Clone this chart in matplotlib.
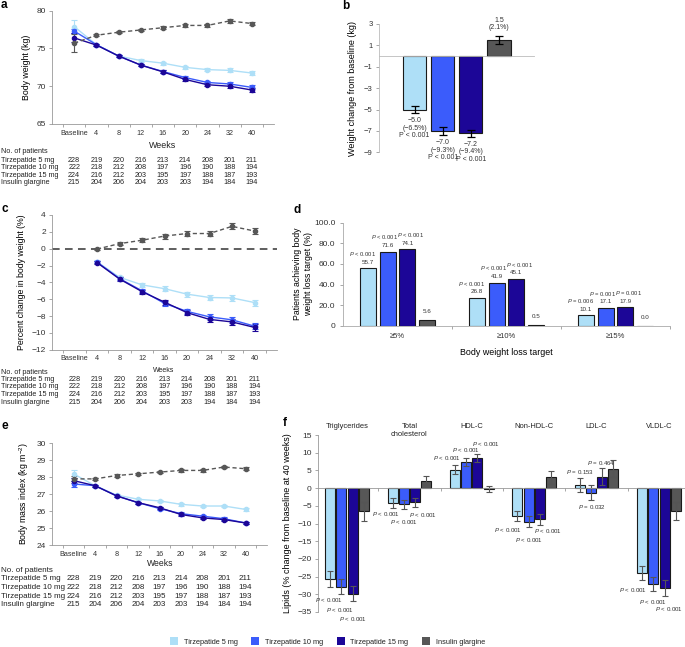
import numpy as np
import matplotlib.pyplot as plt
from matplotlib.patches import Patch
from matplotlib.transforms import blended_transform_factory

plt.rcParams['font.family'] = ['Liberation Sans', 'DejaVu Sans']
plt.rcParams['mathtext.fontset'] = 'custom'
plt.rcParams['mathtext.rm'] = 'Liberation Sans'
plt.rcParams['mathtext.it'] = 'Liberation Sans:italic'
plt.rcParams['axes.linewidth'] = 0.6
plt.rcParams['xtick.color'] = '#999999'
plt.rcParams['ytick.color'] = '#999999'
plt.rcParams['xtick.labelcolor'] = '#333333'
plt.rcParams['ytick.labelcolor'] = '#333333'
plt.rcParams['text.color'] = '#222222'

W, H = 685, 647

weeks = ['Baseline', '4', '8', '12', '16', '20', '24', '32', '40']
groups = ['Tirzepatide 5 mg', 'Tirzepatide 10 mg', 'Tirzepatide 15 mg', 'Insulin glargine']
colors = ['#aedff7', '#3b5cfb', '#1c0697', '#575757']

# a: body weight (kg)
wt_5 = [77.9, 75.5, 74.0, 73.4, 73.05, 72.5, 72.2, 72.1, 71.75]
wt_10 = [77.3, 75.5, 74.0, 72.8, 71.95, 71.15, 70.5, 70.3, 69.85]
wt_15 = [76.4, 75.45, 74.0, 72.8, 71.9, 70.9, 70.2, 70.0, 69.5]
wt_ig = [75.7, 76.75, 77.15, 77.45, 77.75, 78.05, 78.05, 78.65, 78.3]
wt_err_5 = [0.9, 0.12, 0.15, 0.18, 0.2, 0.2, 0.22, 0.25, 0.25]
wt_err_10 = [0.3, 0.12, 0.15, 0.18, 0.2, 0.22, 0.22, 0.25, 0.25]
wt_err_15 = [0.6, 0.12, 0.15, 0.18, 0.2, 0.22, 0.22, 0.25, 0.25]
wt_err_ig = [1.2, 0.12, 0.12, 0.15, 0.18, 0.2, 0.2, 0.22, 0.22]

# b: weight change at 40 weeks
chg_kg = [-5.0, -7.0, -7.2, 1.5]
chg_err = [0.3, 0.35, 0.33, 0.35]
chg_pct = [-6.5, -9.3, -9.4, 2.1]
chg_p = ['P < 0.001', 'P < 0.001', 'P < 0.001', '']

# c: percent change in body weight (weeks 4-40)
pc_5 = [-1.55, -3.4, -4.3, -4.75, -5.4, -5.8, -5.85, -6.4]
pc_10 = [-1.6, -3.55, -5.0, -6.5, -7.45, -8.1, -8.45, -9.2]
pc_15 = [-1.65, -3.6, -5.1, -6.35, -7.6, -8.4, -8.7, -9.35]
pc_ig = [-0.05, 0.6, 1.0, 1.5, 1.8, 1.8, 2.65, 2.1]
pc_err_5 = [0.15, 0.2, 0.25, 0.3, 0.3, 0.3, 0.35, 0.35]
pc_err_10 = [0.15, 0.2, 0.25, 0.3, 0.3, 0.35, 0.35, 0.4]
pc_err_15 = [0.15, 0.2, 0.25, 0.3, 0.3, 0.35, 0.35, 0.4]
pc_err_ig = [0.15, 0.2, 0.25, 0.3, 0.3, 0.35, 0.35, 0.4]

# d: patients achieving weight loss target (%)
targets = ['\u22655%', '\u226510%', '\u226515%']
ach_5 = [55.7, 26.8, 10.1]
ach_10 = [71.6, 41.9, 17.1]
ach_15 = [74.1, 45.1, 17.9]
ach_ig = [5.6, 0.5, 0.0]
ach_p_5 = ['< 0.001', '< 0.001', '= 0.006']
ach_p_10 = ['< 0.001', '< 0.001', '= 0.001']
ach_p_15 = ['< 0.001', '< 0.001', '= 0.001']

# e: BMI
bmi_5 = [28.2, 27.5, 26.95, 26.7, 26.6, 26.4, 26.3, 26.3, 26.1]
bmi_10 = [27.6, 27.5, 26.9, 26.5, 26.15, 25.85, 25.7, 25.55, 25.3]
bmi_15 = [27.8, 27.5, 26.9, 26.5, 26.2, 25.8, 25.6, 25.5, 25.3]
bmi_ig = [27.9, 27.9, 28.1, 28.2, 28.3, 28.4, 28.4, 28.6, 28.5]
bmi_err_5 = [0.25, 0.05, 0.06, 0.06, 0.07, 0.07, 0.08, 0.08, 0.08]
bmi_err_10 = [0.2, 0.05, 0.06, 0.06, 0.07, 0.07, 0.08, 0.08, 0.08]
bmi_err_15 = [0.15, 0.05, 0.06, 0.06, 0.07, 0.07, 0.08, 0.08, 0.08]
bmi_err_ig = [0.15, 0.05, 0.06, 0.06, 0.07, 0.07, 0.08, 0.08, 0.08]

# number of patients
n_5 = [228, 219, 220, 216, 213, 214, 208, 201, 211]
n_10 = [222, 218, 212, 208, 197, 196, 190, 188, 194]
n_15 = [224, 216, 212, 203, 195, 197, 188, 187, 193]
n_ig = [215, 204, 206, 204, 203, 203, 194, 184, 194]

# f: lipids, % change at 40 weeks
lipids = ['Triglycerides', 'Total\ncholesterol', 'HDL-C', 'Non-HDL-C', 'LDL-C', 'VLDL-C']
lip_5 = [-25.6, -4.3, 5.2, -8.0, 0.8, -24.0]
lip_10 = [-27.8, -4.6, 7.3, -9.5, -1.3, -27.1]
lip_15 = [-29.8, -4.0, 8.5, -8.8, 3.2, -28.2]
lip_ig = [-6.6, 2.1, -0.3, 3.0, 5.5, -6.4]
lip_err_5 = [2.2, 1.4, 1.2, 1.4, 2.0, 2.1]
lip_err_10 = [2.1, 1.2, 1.1, 1.5, 2.1, 2.0]
lip_err_15 = [2.1, 1.2, 1.2, 1.5, 2.4, 2.2]
lip_err_ig = [2.8, 1.3, 0.9, 1.8, 2.3, 2.6]
lip_p_5 = ['< 0.001', '< 0.001', '< 0.001', '< 0.001', '= 0.153', '< 0.001']
lip_p_10 = ['< 0.001', '< 0.001', '< 0.001', '< 0.001', '= 0.032', '< 0.001']
lip_p_15 = ['< 0.001', '< 0.001', '< 0.001', '< 0.001', '= 0.464', '< 0.001']


def box(x0, y0, x1, y1):
    return [x0 / W, 1 - y1 / H, (x1 - x0) / W, (y1 - y0) / H]


def fy(py):
    return 1 - py / H


def minus(s):
    return s.replace('-', '\u2212')


fig = plt.figure(figsize=(W / 100, H / 100), dpi=100)


def line_panel(ax, x, series, errs, ylim, yticks, ylabel):
    styles = ['-', '-', '-', (0, (3, 2))]
    for vals, err, c, ls in zip(series, errs, colors, styles):
        ax.errorbar(x, vals, yerr=err, color=c, ls=ls, lw=1.0, marker='o', ms=3,
                    capsize=2.2, elinewidth=0.8, capthick=0.8)
    ax.set_xlim(-1, 9)
    ax.set_ylim(*ylim)
    ax.set_yticks(yticks)
    ax.set_yticklabels([minus(str(t)) for t in yticks])
    ax.set_xticks(range(9))
    ax.set_xticklabels(weeks, fontsize=5.2)
    ax.set_xticks(np.arange(-0.5, 9, 1), minor=True)
    ax.tick_params(axis='x', which='major', length=0, pad=4)
    ax.tick_params(axis='x', which='minor', length=2.5, width=0.6)
    ax.tick_params(axis='y', length=2.5, width=0.6, labelsize=6, pad=2)
    for s in ['top', 'right']:
        ax.spines[s].set_visible(False)
    for s in ['left', 'bottom']:
        ax.spines[s].set_color('#999999')
    ax.set_ylabel(ylabel, fontsize=6.3, labelpad=4)


def patient_table(ax, y_head, y_rows, size):
    tr = blended_transform_factory(ax.transData, fig.transFigure)
    fig.text(0.001, fy(y_head), 'No. of patients', fontsize=size, va='center')
    for name, counts, py in zip(groups, [n_5, n_10, n_15, n_ig], y_rows):
        fig.text(0.001, fy(py), name, fontsize=size, va='center')
        for j, n in enumerate(counts):
            ax.text(j, fy(py), str(n), transform=tr, fontsize=size,
                    ha='center', va='center')


# ---- a ----
ax_a = fig.add_axes(box(52, 10.7, 274, 124))
line_panel(ax_a, np.arange(9), [wt_5, wt_10, wt_15, wt_ig],
           [wt_err_5, wt_err_10, wt_err_15, wt_err_ig],
           (65, 80), [65, 70, 75, 80], 'Body weight (kg)')
fig.text(163 / W, fy(146), 'Weeks', fontsize=6.4, ha='center', va='center')
patient_table(ax_a, 151, [160, 167.7, 175.3, 183], 5.2)

# ---- b ----
ax_b = fig.add_axes(box(379, 24, 534, 152.3))
ax_b.bar(range(4), chg_kg, width=0.82, color=colors, edgecolor='#1a1a1a', lw=0.8,
         yerr=chg_err, capsize=3, error_kw=dict(elinewidth=0.9, capthick=0.9, ecolor='black'))
ax_b.set_xlim(-1.26, 4.24)
ax_b.set_ylim(-9, 3)
bt = list(range(-9, 4, 2))
ax_b.set_yticks(bt)
ax_b.set_yticklabels([minus(str(t)) for t in bt])
ax_b.set_xticks([])
ax_b.spines['bottom'].set_position(('data', 0))
ax_b.spines['bottom'].set_color('#bbbbbb')
ax_b.spines['left'].set_color('#bbbbbb')
for s in ['top', 'right']:
    ax_b.spines[s].set_visible(False)
ax_b.tick_params(axis='y', length=2.5, width=0.6, labelsize=5.5, pad=2)
ax_b.set_ylabel('Weight change from baseline (kg)', fontsize=6.5, labelpad=5)
for i, (v, e, p, pv) in enumerate(zip(chg_kg, chg_err, chg_pct, chg_p)):
    if v < 0:
        txt = minus(f'{v:.1f}\n({p:.1f}%)') + '\n' + pv
        ax_b.annotate(txt, (i, v - e), xytext=(0, -3), textcoords='offset points',
                      ha='center', va='top', fontsize=5, linespacing=1.15, color='#333333')
    else:
        ax_b.annotate(f'{v:.1f}\n({p:.1f}%)', (i, v + e), xytext=(0, 3.5),
                      textcoords='offset points', ha='center', va='bottom',
                      fontsize=5, linespacing=1.15, color='#333333')

# ---- c ----
ax_c = fig.add_axes(box(52, 215, 277, 349.7))
line_panel(ax_c, np.arange(1, 9), [pc_5, pc_10, pc_15, pc_ig],
           [pc_err_5, pc_err_10, pc_err_15, pc_err_ig],
           (-12, 4), list(range(-12, 5, 2)), 'Percent change in body weight (%)')
ax_c.axhline(0, color='#333333', lw=1.1, ls=(0, (5, 3.5)), zorder=0)
fig.text(164 / W, fy(370), 'Weeks', fontsize=5, ha='center', va='center')
patient_table(ax_c, 372, [379.5, 387, 394.5, 402], 5.2)

# ---- d ----
ax_d = fig.add_axes(box(343, 222.7, 670, 325.7))
sp, bw = 0.183, 0.147
for k, (vals, c) in enumerate(zip([ach_5, ach_10, ach_15, ach_ig], colors)):
    xs = np.arange(3) + (k - 1.5) * sp
    ax_d.bar(xs, vals, width=bw, color=c, edgecolor='#1a1a1a', lw=0.8)
    for xi, v in zip(xs, vals):
        ax_d.annotate(f'{v:.1f}', (xi, v), xytext=(0, 4.5 if k < 3 else 6),
                      textcoords='offset points', ha='center', va='center',
                      fontsize=4.5, color='#333333')
p_dx = [-3.5, -2.0, 2.0]
for k, plist in enumerate([ach_p_5, ach_p_10, ach_p_15]):
    vals = [ach_5, ach_10, ach_15][k]
    xs = np.arange(3) + (k - 1.5) * sp
    for xi, v, p in zip(xs, vals, plist):
        ax_d.annotate(r'$P$ ' + p, (xi, v), xytext=(p_dx[k], 10.5),
                      textcoords='offset points', ha='center', va='center',
                      fontsize=4.2, color='#333333')
ax_d.set_xlim(-0.5, 2.5)
ax_d.set_ylim(0, 100)
ax_d.set_yticks([0, 20, 40, 60, 80, 100])
ax_d.set_yticklabels(['0', '20.0', '40.0', '60.0', '80.0', '100.0'])
ax_d.set_xticks(range(3))
ax_d.set_xticklabels(targets, fontsize=5.5)
ax_d.set_xticks([0.5, 1.5, 2.5], minor=True)
ax_d.tick_params(axis='x', which='major', length=0, pad=5)
ax_d.tick_params(axis='x', which='minor', length=2.5, width=0.6)
ax_d.tick_params(axis='y', length=2.5, width=0.6, labelsize=6, pad=3)
for s in ['top', 'right']:
    ax_d.spines[s].set_visible(False)
for s in ['left', 'bottom']:
    ax_d.spines[s].set_color('#aaaaaa')
ax_d.set_ylabel('Patients achieving body\nweight loss target (%)', fontsize=6.3, labelpad=1)
ax_d.set_xlabel('Body weight loss target', fontsize=6.4, labelpad=6)

# ---- e ----
ax_e = fig.add_axes(box(52, 443.3, 267, 545))
line_panel(ax_e, np.arange(9), [bmi_5, bmi_10, bmi_15, bmi_ig],
           [bmi_err_5, bmi_err_10, bmi_err_15, bmi_err_ig],
           (24, 30), list(range(24, 31)), r'Body mass index (kg m$^{-2}$)')
fig.text(160 / W, fy(564), 'Weeks', fontsize=6.2, ha='center', va='center')
patient_table(ax_e, 570, [579, 587.5, 596, 604.7], 5.8)

# ---- f ----
ax_f = fig.add_axes(box(318, 435, 685, 612))
sp, bw = 0.18, 0.16
lip_vals = [lip_5, lip_10, lip_15, lip_ig]
lip_errs = [lip_err_5, lip_err_10, lip_err_15, lip_err_ig]
for k in range(4):
    xs = np.arange(6) + (k - 1.5) * sp
    ax_f.bar(xs, lip_vals[k], width=bw, color=colors[k], edgecolor='#1a1a1a', lw=0.8,
             yerr=lip_errs[k], capsize=2.5,
             error_kw=dict(elinewidth=0.8, capthick=0.8, ecolor='#555555'))
# label offsets (points) for each group: light, medium, dark
lab_off = [[(-1, 10), (-1, 11.5), (0.5, 13)],
           [(-5, 4), (0, 9.5), (6, 6)],
           [(-5.5, 5), (0, 6), (6, 7)],
           [(-6.5, 6.5), (0, 9.5), (6, 4.5)],
           [(0, 4.5), (0.5, 5), (-0.5, 3.5)],
           [(-6.5, 6.5), (0, 8), (3, 9.5)]]
for k, plist in enumerate([lip_p_5, lip_p_10, lip_p_15]):
    xs = np.arange(6) + (k - 1.5) * sp
    for g in range(6):
        v, e = lip_vals[k][g], lip_errs[k][g]
        dx, dy = lab_off[g][k]
        if v < 0:
            y, dy = v - e, -dy
        else:
            y = v + e
        ax_f.annotate(r'$P$ ' + plist[g], (xs[g], y), xytext=(dx, dy),
                      textcoords='offset points', ha='center', va='center',
                      fontsize=4.4, color='#333333')
trf = blended_transform_factory(ax_f.transData, fig.transFigure)
for g, name in enumerate(lipids):
    ax_f.text(g, fy(423), name, transform=trf, ha='center', va='top',
              fontsize=5.4, linespacing=1.15)
ax_f.set_xlim(-0.465, 5.417)
ax_f.set_ylim(-35, 15)
ft = list(range(-35, 16, 5))
ax_f.set_yticks(ft)
ax_f.set_yticklabels([minus(str(t)) for t in ft])
ax_f.set_xticks([])
ax_f.set_xticks(np.arange(0.5, 5.5, 1), minor=True)
ax_f.tick_params(axis='x', which='minor', length=2.5, width=0.6, direction='out')
ax_f.spines['bottom'].set_position(('data', 0))
ax_f.spines['bottom'].set_color('#999999')
ax_f.spines['left'].set_color('#999999')
for s in ['top', 'right']:
    ax_f.spines[s].set_visible(False)
ax_f.tick_params(axis='y', length=2.5, width=0.6, labelsize=6, pad=2)
ax_f.set_ylabel('Lipids (% change from baseline at 40 weeks)', fontsize=6.5, labelpad=4)

# panel letters
for lab, px, py in [('a', 1, 8), ('b', 342, 9), ('c', 1, 212), ('d', 293, 213),
                    ('e', 1, 429), ('f', 283, 426)]:
    fig.text(px / W, fy(py), lab, fontsize=8.5, fontweight='bold', va='baseline',
             color='black')

# legend
handles = [Patch(facecolor=c, edgecolor='none') for c in colors]
fig.legend(handles, groups, loc='center', bbox_to_anchor=(327.5 / W, fy(641.5)),
           ncol=4, frameon=False, fontsize=5.3, handlelength=1.1, handleheight=1.1,
           columnspacing=1.8, handletextpad=0.8, borderaxespad=0)

fig.savefig('out.png', dpi=100)
